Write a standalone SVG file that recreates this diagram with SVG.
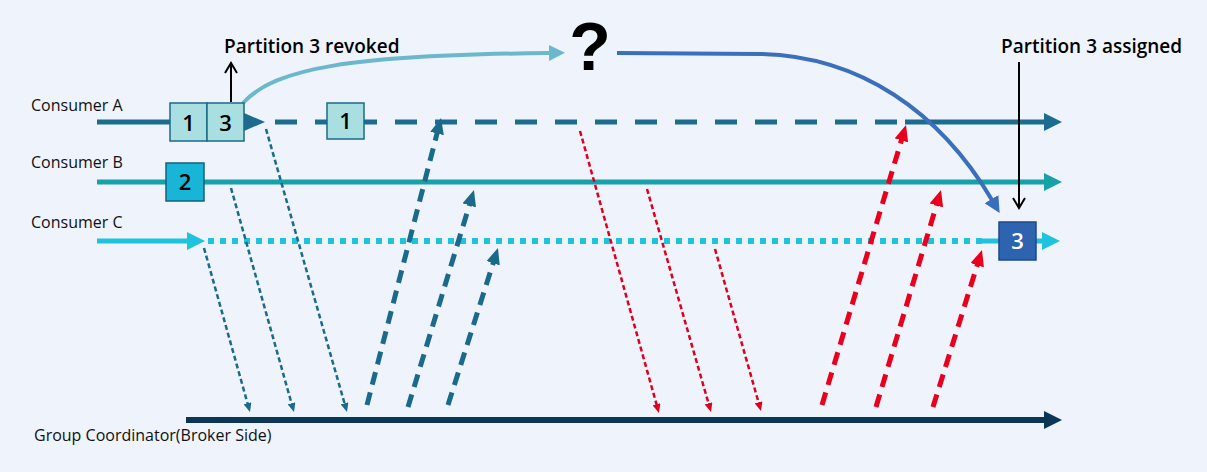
<svg xmlns="http://www.w3.org/2000/svg" width="1207" height="472" viewBox="0 0 1207 472">
<style>
.lbl{font-family:"Open Sans","Noto Sans","Liberation Sans",sans-serif;font-size:16px;fill:#111}
.ttl{font-family:"Open Sans","Noto Sans","Liberation Sans",sans-serif;font-size:19px;font-weight:600;fill:#000}
.num{font-family:"Open Sans","Noto Sans","Liberation Sans",sans-serif;font-size:22px;font-weight:600;text-anchor:middle}
.q{font-family:"Liberation Sans","Arial",sans-serif;font-size:68px;font-weight:bold;text-anchor:middle;fill:#000}
.thinT{fill:none;stroke:#1b6a8c;stroke-width:2.5;stroke-dasharray:5 3}
.thinR{fill:none;stroke:#e0001e;stroke-width:2.5;stroke-dasharray:5 3}
.thickT{fill:none;stroke:#1b6a8c;stroke-width:5;stroke-dasharray:13 8}
.thickR{fill:none;stroke:#e8001c;stroke-width:5;stroke-dasharray:13 8}
</style>
<defs>
<marker id="hA" markerUnits="userSpaceOnUse" markerWidth="18" markerHeight="18" refX="1" refY="9" orient="auto"><path d="M0,0 L18,9 L0,18 z" fill="#1b6c8f"/></marker>
<marker id="hB" markerUnits="userSpaceOnUse" markerWidth="18" markerHeight="18" refX="1" refY="9" orient="auto"><path d="M0,0 L18,9 L0,18 z" fill="#17a2aa"/></marker>
<marker id="hC" markerUnits="userSpaceOnUse" markerWidth="18" markerHeight="18" refX="1" refY="9" orient="auto"><path d="M0,0 L18,9 L0,18 z" fill="#1fc3de"/></marker>
<marker id="hG" markerUnits="userSpaceOnUse" markerWidth="18" markerHeight="18" refX="1" refY="9" orient="auto"><path d="M0,0 L18,9 L0,18 z" fill="#0b3656"/></marker>
<marker id="hL" markerUnits="userSpaceOnUse" markerWidth="16" markerHeight="16" refX="1" refY="8" orient="auto"><path d="M0,0 L16,8 L0,16 z" fill="#6bb8cd"/></marker>
<marker id="hD" markerUnits="userSpaceOnUse" markerWidth="16" markerHeight="16" refX="1" refY="8" orient="auto"><path d="M0,0 L16,8 L0,16 z" fill="#3a6fbb"/></marker>
<marker id="hK" markerUnits="userSpaceOnUse" markerWidth="14" markerHeight="14" refX="12" refY="7" orient="auto"><path d="M2,1 L12,7 L2,13" fill="none" stroke="#000" stroke-width="2"/></marker>
<marker id="hTs" markerUnits="userSpaceOnUse" markerWidth="9" markerHeight="8" refX="1" refY="4" orient="auto"><path d="M0,0 L9,4 L0,8 z" fill="#1b6a8c"/></marker>
<marker id="hRs" markerUnits="userSpaceOnUse" markerWidth="9" markerHeight="8" refX="1" refY="4" orient="auto"><path d="M0,0 L9,4 L0,8 z" fill="#e0001e"/></marker>
<marker id="hTb" markerUnits="userSpaceOnUse" markerWidth="16" markerHeight="14" refX="1" refY="7" orient="auto"><path d="M0,0 L16,7 L0,14 z" fill="#1b6a8c"/></marker>
<marker id="hRb" markerUnits="userSpaceOnUse" markerWidth="16" markerHeight="14" refX="1" refY="7" orient="auto"><path d="M0,0 L16,7 L0,14 z" fill="#e8001c"/></marker>
</defs>
<rect width="1207" height="472" fill="#eef3fc"/>

<g id="lanes">
<g id="consumer-a">
<text class="lbl" x="31" y="111">Consumer A</text>
<path d="M97,122 H172" stroke="#1b6c8f" stroke-width="5" fill="none"/>
<path d="M275,122 H905" stroke="#1b6c8f" stroke-width="5" fill="none" stroke-dasharray="22 18"/>
<path d="M905,122 H1045" stroke="#1b6c8f" stroke-width="5" fill="none" marker-end="url(#hA)"/>
<polygon points="244,113 265,122 244,131" fill="#1b6c8f"/>
</g>
<g id="consumer-b">
<text class="lbl" x="31" y="168">Consumer B</text>
<path d="M97,182 H1045" stroke="#17a2aa" stroke-width="5" fill="none" marker-end="url(#hB)"/>
</g>
<g id="consumer-c">
<text class="lbl" x="31" y="228">Consumer C</text>
<path d="M97,241 H188" stroke="#1fc3de" stroke-width="5" fill="none" marker-end="url(#hC)"/>
<path d="M208,241 H982" stroke="#1fc3de" stroke-width="6" fill="none" stroke-dasharray="6 6"/>
<path d="M982,241 H1043" stroke="#1fc3de" stroke-width="5" fill="none" marker-end="url(#hC)"/>
</g>
<g id="coordinator">
<text class="lbl" x="34" y="441">Group Coordinator(Broker Side)</text>
<path d="M186,420 H1045" stroke="#0b3656" stroke-width="6" fill="none" marker-end="url(#hG)"/>
</g>
</g>

<g id="connectors">
<path class="thinT" d="M266,129 L344.8,404.3" marker-end="url(#hTs)"/>
<path class="thinT" d="M231,188 L291.8,404.3" marker-end="url(#hTs)"/>
<path class="thinT" d="M204,248 L247.8,404.3" marker-end="url(#hTs)"/>
<path class="thickT" d="M367,405 L437.3,132.5" marker-end="url(#hTb)"/>
<path class="thickT" d="M408,407 L469.6,204.4" marker-end="url(#hTb)"/>
<path class="thickT" d="M448,405 L493.4,262.3" marker-end="url(#hTb)"/>
<path class="thinR" d="M580,131 L656.8,405.3" marker-end="url(#hRs)"/>
<path class="thinR" d="M647,189 L708.8,404.3" marker-end="url(#hRs)"/>
<path class="thinR" d="M715,249 L758.8,403.3" marker-end="url(#hRs)"/>
<path class="thickR" d="M822,405 L901.7,139.4" marker-end="url(#hRb)"/>
<path class="thickR" d="M876,407 L936.7,204.4" marker-end="url(#hRb)"/>
<path class="thickR" d="M933,407 L977.5,264.3" marker-end="url(#hRb)"/>
<path d="M243,103 C275,68 350,55 550,53" fill="none" stroke="#6bb8cd" stroke-width="4" marker-end="url(#hL)"/>
<path d="M617,53 L760,54 C860,56 940,112 992,200" fill="none" stroke="#3a6fbb" stroke-width="4" marker-end="url(#hD)"/>
<path d="M231,102 L231,63" fill="none" stroke="#000" stroke-width="2" marker-end="url(#hK)"/>
<path d="M1019,62 L1019,208" fill="none" stroke="#000" stroke-width="2" marker-end="url(#hK)"/>
</g>

<g id="box-a1"><rect x="170" y="103" width="37" height="38" fill="#a9dfe0" stroke="#1b6a8c" stroke-width="1.5"/><text class="num" x="188.5" y="131">1</text></g>
<g id="box-a3"><rect x="207" y="103" width="37" height="38" fill="#a9dfe0" stroke="#1b6a8c" stroke-width="1.5"/><text class="num" x="225.5" y="131">3</text></g>
<g id="box-a1b"><rect x="327" y="103" width="37" height="36" fill="#a9dfe0" stroke="#1b6a8c" stroke-width="1.5"/><text class="num" x="345.5" y="129">1</text></g>
<g id="box-b2"><rect x="166" y="163" width="38" height="38" fill="#19b5d6" stroke="#175f80" stroke-width="1.5"/><text class="num" x="185" y="190">2</text></g>
<g id="box-c3"><rect x="999" y="222" width="37" height="38" fill="#2e63b0" stroke="#1d4a8a" stroke-width="1.5"/><text class="num" x="1017.5" y="249" fill="#fff">3</text></g>

<g id="label-revoked"><text class="ttl" x="224" y="53">Partition 3 revoked</text></g>
<g id="label-assigned"><text class="ttl" x="1001" y="53">Partition 3 assigned</text></g>
<g id="question"><text class="q" x="590" y="70">?</text></g>
</svg>
